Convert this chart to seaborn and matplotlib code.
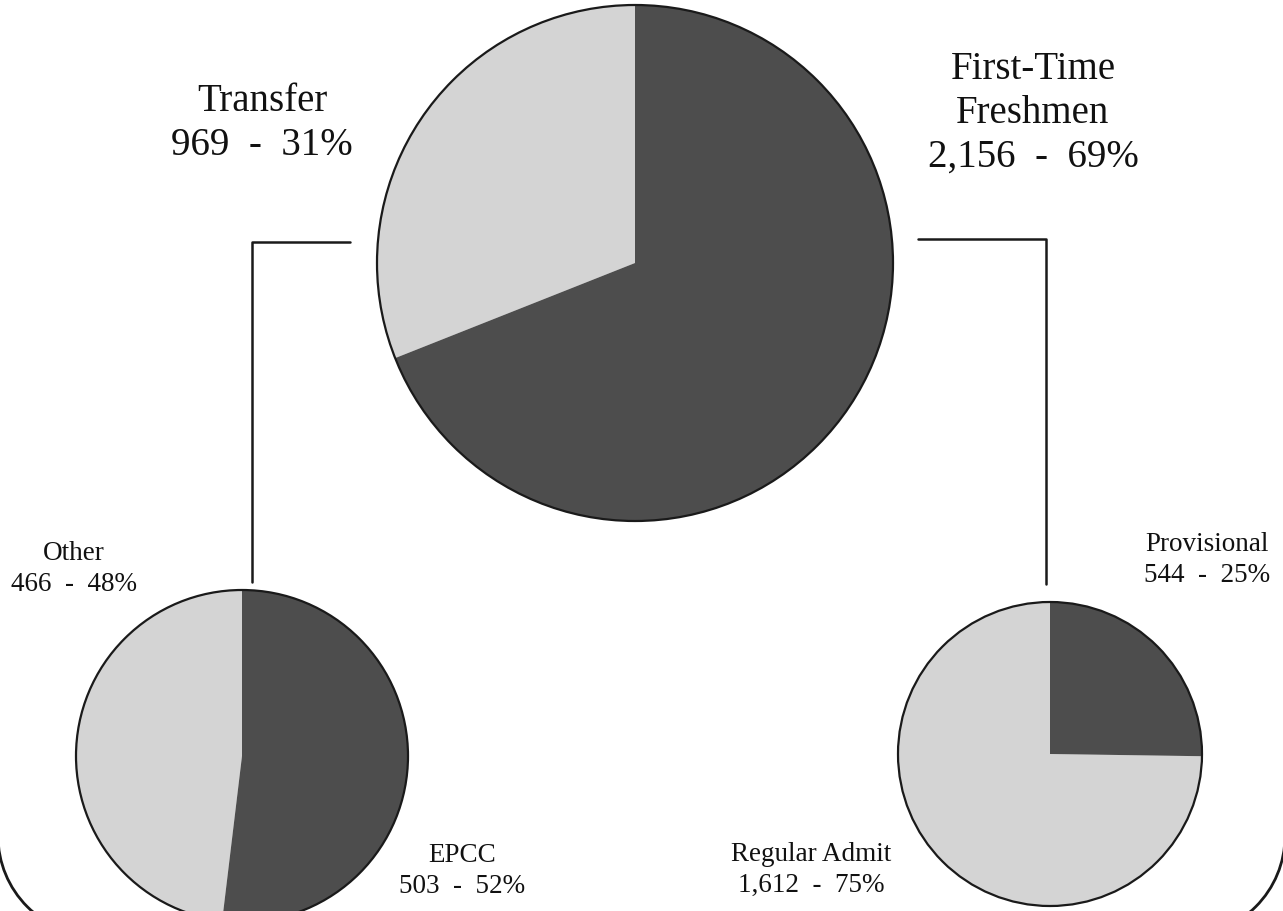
import matplotlib
matplotlib.use("Agg")
import matplotlib.pyplot as plt
from matplotlib.patches import Arc, Circle
import seaborn as sns

sns.set_theme(style="white")
plt.rcParams["font.family"] = ["Liberation Serif", "DejaVu Serif"]

## Data
main_names = ["Transfer", "First-Time\nFreshmen"]
main_counts = [969, 2156]
main_pcts = [31, 69]

transfer_names = ["Other", "EPCC"]
transfer_counts = [466, 503]
transfer_pcts = [48, 52]

ftf_names = ["Regular Admit", "Provisional"]
ftf_counts = [1612, 544]
ftf_pcts = [75, 25]

light = "#d4d4d4"
dark = "#4d4d4d"
ink = "#1a1a1a"

W, H = 1283, 912
fig = plt.figure(figsize=(W / 100, H / 100), dpi=100)
ax = fig.add_axes([0, 0, 1, 1])


def py(y):
    # pixel row (from top) -> data y
    return H - y


def label(name, count, pct):
    return f"{name}\n{count:,}  -  {pct}%"


def draw_pie(counts, center, radius):
    ax.pie(counts, colors=[light, dark], startangle=90,
           center=center, radius=radius, wedgeprops=dict(linewidth=0))
    ax.add_patch(Circle(center, radius, fill=False, edgecolor=ink, linewidth=1.6))


draw_pie(main_counts, (635, py(264)), 258)
draw_pie(transfer_counts, (242, py(757)), 166)
draw_pie(ftf_counts, (1050, py(755)), 152)

# connector lines
ax.plot([350, 252, 252], [py(243), py(243), py(583)], color=ink, lw=1.8)
ax.plot([918, 1046, 1046], [py(240), py(240), py(585)], color=ink, lw=1.8)

# bottom corners of the rounded frame
ax.add_patch(Arc((98, py(837)), 200, 200, theta1=180, theta2=270, color=ink, lw=2))
ax.add_patch(Arc((1185, py(837)), 200, 200, theta1=270, theta2=360, color=ink, lw=2))

big = 28
small = 19.5
tkw = dict(ha="center", va="center", color="#111111")
ax.text(262, py(123), label(main_names[0], main_counts[0], main_pcts[0]),
        fontsize=big, linespacing=1.25, **tkw)
ax.text(1033, py(113), label(main_names[1], main_counts[1], main_pcts[1]),
        fontsize=big, linespacing=1.25, **tkw)
ax.text(74, py(569), label(transfer_names[0], transfer_counts[0], transfer_pcts[0]),
        fontsize=small, linespacing=1.3, **tkw)
ax.text(462, py(871), label(transfer_names[1], transfer_counts[1], transfer_pcts[1]),
        fontsize=small, linespacing=1.3, **tkw)
ax.text(811, py(870), label(ftf_names[0], ftf_counts[0], ftf_pcts[0]),
        fontsize=small, linespacing=1.3, **tkw)
ax.text(1207, py(560), label(ftf_names[1], ftf_counts[1], ftf_pcts[1]),
        fontsize=small, linespacing=1.3, **tkw)

ax.set_xlim(0, W)
ax.set_ylim(0, H)
ax.set_aspect("equal")
ax.axis("off")

fig.savefig("out.png", dpi=100)
